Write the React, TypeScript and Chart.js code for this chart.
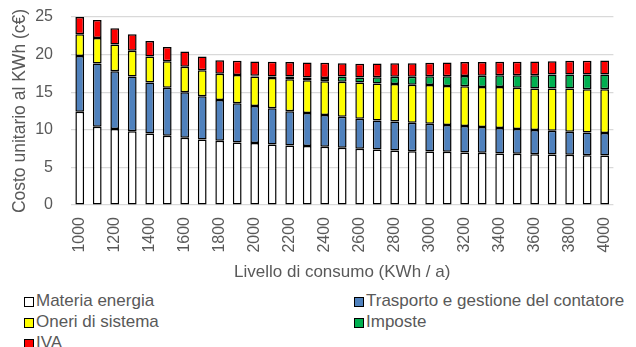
import React, { useEffect, useRef } from "react";
import { Chart, registerables } from "chart.js";

Chart.register(...registerables);

const categories = [
  "1000", "1100", "1200", "1300", "1400", "1500", "1600", "1700", "1800", "1900",
  "2000", "2100", "2200", "2300", "2400", "2500", "2600", "2700", "2800", "2900",
  "3000", "3100", "3200", "3300", "3400", "3500", "3600", "3700", "3800", "3900", "4000",
];

const materiaEnergia = [12.4, 10.4, 10.1, 9.8, 9.5, 9.2, 8.94, 8.72, 8.54, 8.32, 8.23, 8.05, 7.92, 7.83, 7.74, 7.6, 7.47, 7.38, 7.25, 7.16, 7.1, 7.07, 6.98, 6.94, 6.85, 6.8, 6.76, 6.72, 6.67, 6.63, 6.58];
const trasporto = [7.4, 8.4, 7.7, 7.3, 6.8, 6.4, 6.06, 5.74, 5.43, 5.2, 4.94, 4.81, 4.54, 4.4, 4.23, 4.14, 4.01, 3.87, 3.87, 3.78, 3.7, 3.56, 3.52, 3.42, 3.38, 3.3, 3.2, 3.15, 3.07, 3.02, 2.98];
const oneriSistema = [2.9, 3.4, 3.55, 3.4, 3.45, 3.5, 3.4, 3.47, 3.47, 3.78, 3.91, 4.04, 4.27, 4.37, 4.49, 4.66, 4.8, 4.9, 4.98, 5.06, 5.17, 5.21, 5.29, 5.34, 5.47, 5.5, 5.54, 5.63, 5.74, 5.75, 5.84];
const imposte = [0, 0, 0, 0, 0, 0, 0, 0, 0, 0, 0.1, 0.2, 0.35, 0.35, 0.44, 0.68, 0.67, 0.85, 0.94, 1.04, 1.16, 1.29, 1.38, 1.5, 1.56, 1.66, 1.76, 1.85, 1.87, 1.95, 1.95];
const iva = [2.3, 2.4, 2.15, 2.2, 2.05, 1.9, 2.0, 1.82, 1.82, 1.87, 1.9, 1.94, 1.92, 2.0, 2.0, 1.78, 1.82, 1.8, 1.82, 1.82, 1.77, 1.82, 1.83, 1.8, 1.78, 1.78, 1.82, 1.78, 1.82, 1.82, 1.85];

const yTicks = [0, 5, 10, 15, 20, 25];

const seriesNames = ["Materia energia", "Trasporto e gestione del contatore", "Oneri di sistema", "Imposte", "IVA"];
const seriesColors = ["#FFFFFF", "#4F81BD", "#FFFF00", "#00B050", "#FF0000"];

const FONT = "'Liberation Sans', Arial, sans-serif";
const TEXT = "#595959";

export default function App() {
  const ref = useRef<HTMLCanvasElement | null>(null);

  useEffect(() => {
    if (!ref.current) return;
    const values = [materiaEnergia, trasporto, oneriSistema, imposte, iva];
    const chart = new Chart(ref.current, {
      type: "bar",
      data: {
        labels: categories,
        datasets: values.map((v, i) => ({
          label: seriesNames[i],
          data: v,
          backgroundColor: seriesColors[i],
          borderColor: "#000000",
          borderWidth: 1.5,
          borderSkipped: false,
          barPercentage: 0.5,
          categoryPercentage: 1,
        })),
      },
      options: {
        responsive: false,
        animation: false,
        devicePixelRatio: 1,
        layout: { padding: { top: 17, right: 9, left: 0, bottom: 0 } },
        plugins: { legend: { display: false }, tooltip: { enabled: false } },
        scales: {
          x: {
            stacked: true,
            grid: { display: false, drawTicks: false },
            border: { display: false },
            afterFit: (s: any) => { s.height = 85; },
            ticks: {
              autoSkip: false,
              minRotation: 90,
              maxRotation: 90,
              padding: 12,
              color: TEXT,
              font: { family: FONT, size: 16 },
              callback: (_v: any, i: number) => (i % 2 === 0 ? categories[i] : ""),
            },
            title: {
              display: true,
              text: "Livello di consumo (KWh / a)",
              color: TEXT,
              font: { family: FONT, size: 17 },
              padding: { top: 0, bottom: 7 },
            },
          },
          y: {
            stacked: true,
            min: 0,
            max: 25,
            afterFit: (s: any) => {
              s.width = 71;
              s.paddingTop = 0;
              s.paddingBottom = 0;
            },
            afterBuildTicks: (s: any) => { s.ticks = yTicks.map((v) => ({ value: v })); },
            grid: { color: "#D9D9D9", lineWidth: 1.2, drawTicks: false },
            border: { display: false },
            ticks: {
              padding: 18,
              color: TEXT,
              font: { family: FONT, size: 16 },
            },
            title: {
              display: true,
              text: "Costo unitario al KWh (c€)",
              color: TEXT,
              font: { family: FONT, size: 17.5 },
              padding: { top: 10, bottom: 0 },
            },
          },
        },
      },
    });
    return () => chart.destroy();
  }, []);

  const legendPos = [
    { left: 24, top: 290 },
    { left: 354, top: 290 },
    { left: 24, top: 311 },
    { left: 354, top: 311 },
    { left: 24, top: 332 },
  ];

  return (
    <div style={{ position: "fixed", left: 0, top: 0, width: 636, height: 347, background: "#fff", overflow: "hidden" }}>
      <canvas ref={ref} width={636} height={290} style={{ position: "absolute", left: 0, top: 0, width: 636, height: 290 }} />
      {seriesNames.map((name, i) => (
        <div
          key={name}
          style={{
            position: "absolute",
            left: legendPos[i].left,
            top: legendPos[i].top,
            height: 21,
            lineHeight: "21px",
            fontFamily: FONT,
            fontSize: 17,
            color: TEXT,
            whiteSpace: "nowrap",
            display: "flex",
            alignItems: "center",
          }}
        >
          <span
            style={{
              display: "inline-block",
              width: 8,
              height: 8,
              border: "1.5px solid #000",
              background: seriesColors[i],
              marginRight: 2,
              marginTop: 3,
            }}
          />
          <span>{name}</span>
        </div>
      ))}
    </div>
  );
}
